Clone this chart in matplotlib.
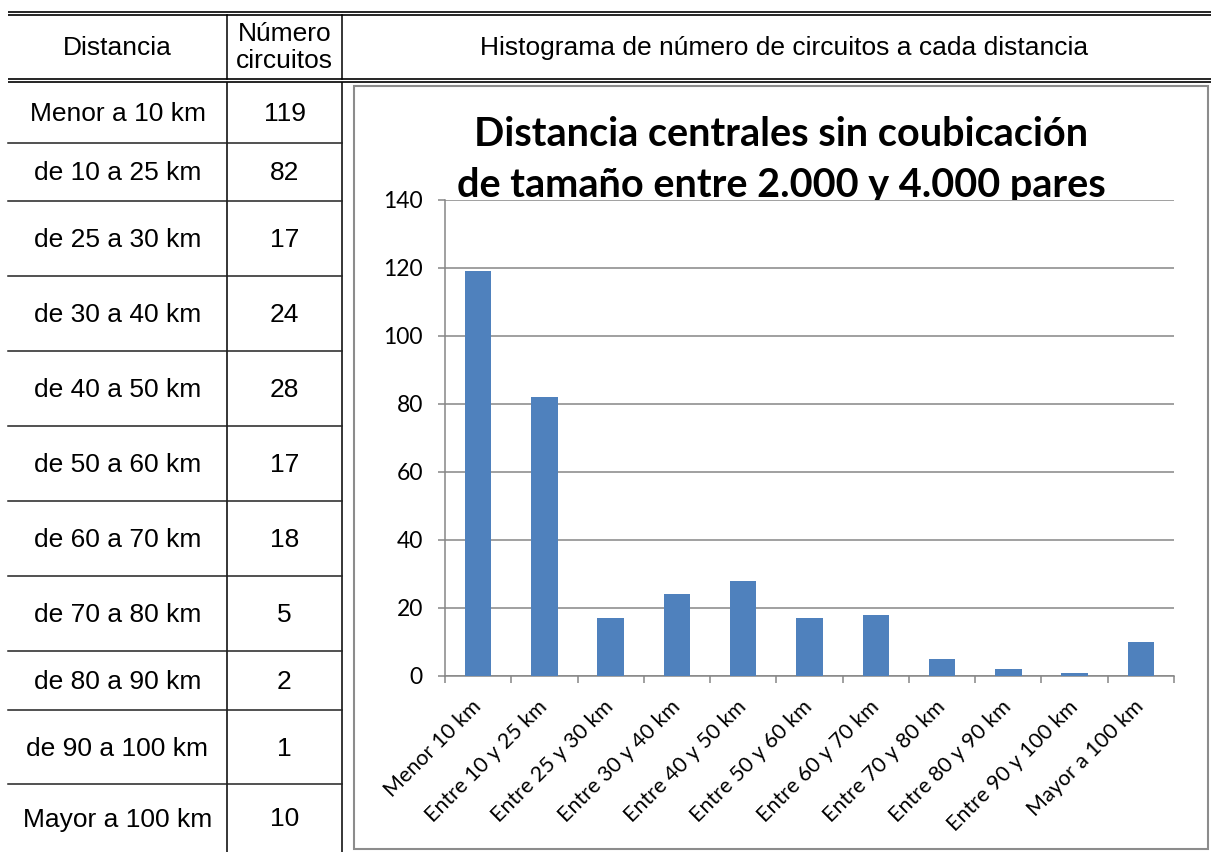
import matplotlib
matplotlib.use("Agg")
import matplotlib.pyplot as plt
import numpy as np
from matplotlib.patches import Rectangle

# table / chart data
table_labels = ["Menor a 10 km", "de 10 a 25 km", "de 25 a 30 km", "de 30 a 40 km",
                "de 40 a 50 km", "de 50 a 60 km", "de 60 a 70 km", "de 70 a 80 km",
                "de 80 a 90 km", "de 90 a 100 km", "Mayor a 100 km"]
circuitos = [119, 82, 17, 24, 28, 17, 18, 5, 2, 1, 10]
chart_categories = ["Menor 10 km", "Entre 10 y 25 km", "Entre 25 y 30 km", "Entre 30 y 40 km",
                    "Entre 40 y 50 km", "Entre 50 y 60 km", "Entre 60 y 70 km", "Entre 70 y 80 km",
                    "Entre 80 y 90 km", "Entre 90 y 100 km", "Mayor a 100 km"]
header_cols = ["Distancia", "Número\ncircuitos", "Histograma de número de circuitos a cada distancia"]
chart_title = "Distancia centrales sin coubicación\nde tamaño entre 2.000 y 4.000 pares"

W, H = 1211, 852
row_edges = [82, 143, 201, 276, 351, 426, 501, 576, 651, 710, 784, 852]
col_x = [8, 227, 342]
table_font = "Liberation Sans"
chart_font = "Lato"
bar_color = "#4F81BD"
grey = "#868686"

fig = plt.figure(figsize=(W / 100, H / 100), dpi=100)
bg = fig.add_axes([0, 0, 1, 1])
bg.set_xlim(0, W)
bg.set_ylim(H, 0)
bg.axis("off")

# double rules
for y in (11.8, 14.8, 79.2, 82.4):
    bg.plot([8, W], [y, y], color="black", lw=1.2, solid_capstyle="butt")
# verticals
for x in col_x[1:]:
    bg.plot([x, x], [15, 78.5], color="black", lw=1.1)
    bg.plot([x, x], [83, H], color="black", lw=1.1)
# row lines
for y in row_edges[1:-1]:
    bg.plot([col_x[0], col_x[2]], [y, y], color="#222222", lw=1.1)

# header
fs = 19
bg.text(117.5, 48, header_cols[0], ha="center", va="center", fontsize=fs, family=table_font)
n1, n2 = header_cols[1].split("\n")
bg.text(284.5, 34, n1, ha="center", va="center", fontsize=fs, family=table_font)
bg.text(284.5, 61, n2, ha="center", va="center", fontsize=fs, family=table_font)
bg.text(784, 48, header_cols[2], ha="center", va="center", fontsize=fs, family=table_font)

# rows
for i, (lab, val) in enumerate(zip(table_labels, circuitos)):
    yc = (row_edges[i] + row_edges[i + 1]) / 2 + 1.5
    bg.text(117.5, yc, lab, ha="center", va="center", fontsize=fs, family=table_font)
    bg.text(284.5, yc, str(val), ha="center", va="center", fontsize=fs, family=table_font)

# chart frame
bg.add_patch(Rectangle((354, 86), 1208 - 354, 849 - 86, fill=False, ec="#8c8c8c", lw=1.5))

# chart title
t1, t2 = chart_title.split("\n")
bg.text(781, 146, t1, ha="center", va="baseline", fontsize=28.5, fontweight="bold", family=chart_font)
bg.text(781, 197, t2, ha="center", va="baseline", fontsize=28.5, fontweight="bold", family=chart_font)

# bar chart
ax = fig.add_axes([445 / W, 1 - 676 / H, (1174 - 445) / W, (676 - 200) / H])
x = np.arange(len(circuitos))
ax.bar(x, circuitos, width=0.4, color=bar_color, zorder=3)
ax.set_xlim(-0.5, len(circuitos) - 0.5)
ax.set_ylim(0, 140)
ax.set_yticks(np.arange(0, 141, 20))
ax.yaxis.grid(True, color=grey, lw=1.1, zorder=0)
ax.set_axisbelow(True)
for s in ("top", "right"):
    ax.spines[s].set_visible(False)
for s in ("left", "bottom"):
    ax.spines[s].set_color(grey)
    ax.spines[s].set_linewidth(1.1)
ax.tick_params(axis="y", direction="out", length=5, width=1.1, color=grey, pad=11,
               labelsize=16.5)
for lbl in ax.get_yticklabels():
    lbl.set_family(chart_font)

ax.set_xticks(x)
ax.set_xticklabels(chart_categories, rotation=45, ha="right", va="center",
                   rotation_mode="anchor", fontsize=15.5, family=chart_font)
ax.set_xticks(np.arange(-0.5, len(circuitos)), minor=True)
ax.tick_params(axis="x", which="major", length=0, pad=20)
ax.tick_params(axis="x", which="minor", direction="out", length=5, width=1.1, color=grey)

fig.savefig("out.png", dpi=100)
